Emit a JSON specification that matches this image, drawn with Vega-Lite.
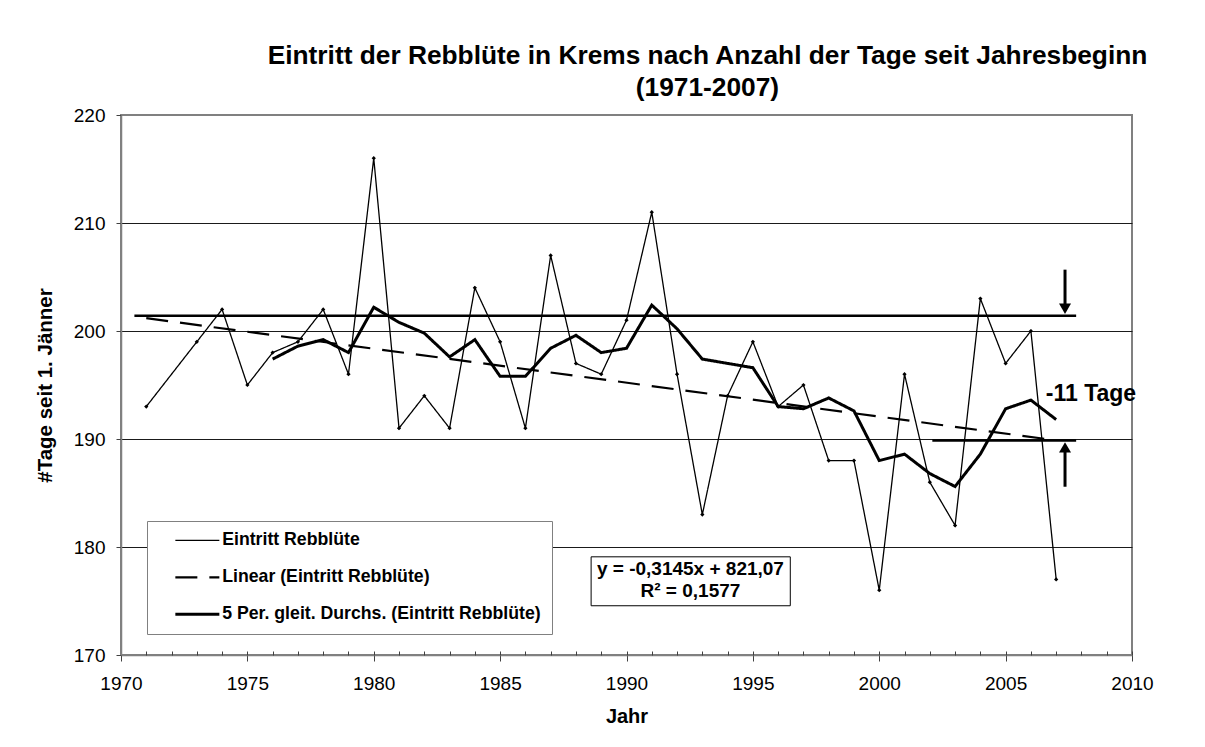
{
  "$schema": "https://vega.github.io/schema/vega-lite/v6.json",
  "width": 1011,
  "height": 540,
  "autosize": {"type": "none"},
  "padding": {"left": 121, "top": 115, "right": 73, "bottom": 92},
  "background": "white",
  "config": {
    "font": "Liberation Sans",
    "view": {"stroke": "#808080", "strokeWidth": 2},
    "axis": {"labelColor": "black", "titleColor": "black", "labelFont": "Liberation Sans", "titleFont": "Liberation Sans"},
    "legend": {
      "orient": "none", "legendX": 26, "legendY": 406,
      "symbolType": "M-4.4,0H4.4", "symbolSize": 100, "symbolStrokeColor": "black",
      "labelFont": "Liberation Sans", "labelFontSize": 17.7, "labelFontWeight": "bold", "labelColor": "black", "labelLimit": 0,
      "padding": 10.5, "rowPadding": 18, "symbolOffset": 31, "labelOffset": 16,
      "strokeColor": "#808080", "fillColor": "white"
    }
  },
  "title": {
    "text": ["Eintritt der Rebblüte in Krems nach Anzahl der Tage seit Jahresbeginn", "(1971-2007)"],
    "font": "Liberation Sans", "fontSize": 26.3, "fontWeight": "bold", "color": "black",
    "anchor": "middle", "dx": 81, "offset": 5, "lineHeight": 32
  },
  "resolve": {"scale": {"x": "independent"}, "axis": {"x": "independent"}},
  "datasets": {
    "reihen": [
      {"Jahr": 1971, "Tage": 193, "Reihe": "Eintritt Rebblüte"},
      {"Jahr": 1973, "Tage": 199, "Reihe": "Eintritt Rebblüte"},
      {"Jahr": 1974, "Tage": 202, "Reihe": "Eintritt Rebblüte"},
      {"Jahr": 1975, "Tage": 195, "Reihe": "Eintritt Rebblüte"},
      {"Jahr": 1976, "Tage": 198, "Reihe": "Eintritt Rebblüte"},
      {"Jahr": 1977, "Tage": 199, "Reihe": "Eintritt Rebblüte"},
      {"Jahr": 1978, "Tage": 202, "Reihe": "Eintritt Rebblüte"},
      {"Jahr": 1979, "Tage": 196, "Reihe": "Eintritt Rebblüte"},
      {"Jahr": 1980, "Tage": 216, "Reihe": "Eintritt Rebblüte"},
      {"Jahr": 1981, "Tage": 191, "Reihe": "Eintritt Rebblüte"},
      {"Jahr": 1982, "Tage": 194, "Reihe": "Eintritt Rebblüte"},
      {"Jahr": 1983, "Tage": 191, "Reihe": "Eintritt Rebblüte"},
      {"Jahr": 1984, "Tage": 204, "Reihe": "Eintritt Rebblüte"},
      {"Jahr": 1985, "Tage": 199, "Reihe": "Eintritt Rebblüte"},
      {"Jahr": 1986, "Tage": 191, "Reihe": "Eintritt Rebblüte"},
      {"Jahr": 1987, "Tage": 207, "Reihe": "Eintritt Rebblüte"},
      {"Jahr": 1988, "Tage": 197, "Reihe": "Eintritt Rebblüte"},
      {"Jahr": 1989, "Tage": 196, "Reihe": "Eintritt Rebblüte"},
      {"Jahr": 1990, "Tage": 201, "Reihe": "Eintritt Rebblüte"},
      {"Jahr": 1991, "Tage": 211, "Reihe": "Eintritt Rebblüte"},
      {"Jahr": 1992, "Tage": 196, "Reihe": "Eintritt Rebblüte"},
      {"Jahr": 1993, "Tage": 183, "Reihe": "Eintritt Rebblüte"},
      {"Jahr": 1994, "Tage": 194, "Reihe": "Eintritt Rebblüte"},
      {"Jahr": 1995, "Tage": 199, "Reihe": "Eintritt Rebblüte"},
      {"Jahr": 1996, "Tage": 193, "Reihe": "Eintritt Rebblüte"},
      {"Jahr": 1997, "Tage": 195, "Reihe": "Eintritt Rebblüte"},
      {"Jahr": 1998, "Tage": 188, "Reihe": "Eintritt Rebblüte"},
      {"Jahr": 1999, "Tage": 188, "Reihe": "Eintritt Rebblüte"},
      {"Jahr": 2000, "Tage": 176, "Reihe": "Eintritt Rebblüte"},
      {"Jahr": 2001, "Tage": 196, "Reihe": "Eintritt Rebblüte"},
      {"Jahr": 2002, "Tage": 186, "Reihe": "Eintritt Rebblüte"},
      {"Jahr": 2003, "Tage": 182, "Reihe": "Eintritt Rebblüte"},
      {"Jahr": 2004, "Tage": 203, "Reihe": "Eintritt Rebblüte"},
      {"Jahr": 2005, "Tage": 197, "Reihe": "Eintritt Rebblüte"},
      {"Jahr": 2006, "Tage": 200, "Reihe": "Eintritt Rebblüte"},
      {"Jahr": 2007, "Tage": 177, "Reihe": "Eintritt Rebblüte"},
      {"Jahr": 1971, "Tage": 201.19, "Reihe": "Linear (Eintritt Rebblüte)"},
      {"Jahr": 2007, "Tage": 189.87, "Reihe": "Linear (Eintritt Rebblüte)"},
      {"Jahr": 1976, "Tage": 197.4, "Reihe": "5 Per. gleit. Durchs. (Eintritt Rebblüte)"},
      {"Jahr": 1977, "Tage": 198.6, "Reihe": "5 Per. gleit. Durchs. (Eintritt Rebblüte)"},
      {"Jahr": 1978, "Tage": 199.2, "Reihe": "5 Per. gleit. Durchs. (Eintritt Rebblüte)"},
      {"Jahr": 1979, "Tage": 198.0, "Reihe": "5 Per. gleit. Durchs. (Eintritt Rebblüte)"},
      {"Jahr": 1980, "Tage": 202.2, "Reihe": "5 Per. gleit. Durchs. (Eintritt Rebblüte)"},
      {"Jahr": 1981, "Tage": 200.8, "Reihe": "5 Per. gleit. Durchs. (Eintritt Rebblüte)"},
      {"Jahr": 1982, "Tage": 199.8, "Reihe": "5 Per. gleit. Durchs. (Eintritt Rebblüte)"},
      {"Jahr": 1983, "Tage": 197.6, "Reihe": "5 Per. gleit. Durchs. (Eintritt Rebblüte)"},
      {"Jahr": 1984, "Tage": 199.2, "Reihe": "5 Per. gleit. Durchs. (Eintritt Rebblüte)"},
      {"Jahr": 1985, "Tage": 195.8, "Reihe": "5 Per. gleit. Durchs. (Eintritt Rebblüte)"},
      {"Jahr": 1986, "Tage": 195.8, "Reihe": "5 Per. gleit. Durchs. (Eintritt Rebblüte)"},
      {"Jahr": 1987, "Tage": 198.4, "Reihe": "5 Per. gleit. Durchs. (Eintritt Rebblüte)"},
      {"Jahr": 1988, "Tage": 199.6, "Reihe": "5 Per. gleit. Durchs. (Eintritt Rebblüte)"},
      {"Jahr": 1989, "Tage": 198.0, "Reihe": "5 Per. gleit. Durchs. (Eintritt Rebblüte)"},
      {"Jahr": 1990, "Tage": 198.4, "Reihe": "5 Per. gleit. Durchs. (Eintritt Rebblüte)"},
      {"Jahr": 1991, "Tage": 202.4, "Reihe": "5 Per. gleit. Durchs. (Eintritt Rebblüte)"},
      {"Jahr": 1992, "Tage": 200.2, "Reihe": "5 Per. gleit. Durchs. (Eintritt Rebblüte)"},
      {"Jahr": 1993, "Tage": 197.4, "Reihe": "5 Per. gleit. Durchs. (Eintritt Rebblüte)"},
      {"Jahr": 1994, "Tage": 197.0, "Reihe": "5 Per. gleit. Durchs. (Eintritt Rebblüte)"},
      {"Jahr": 1995, "Tage": 196.6, "Reihe": "5 Per. gleit. Durchs. (Eintritt Rebblüte)"},
      {"Jahr": 1996, "Tage": 193.0, "Reihe": "5 Per. gleit. Durchs. (Eintritt Rebblüte)"},
      {"Jahr": 1997, "Tage": 192.8, "Reihe": "5 Per. gleit. Durchs. (Eintritt Rebblüte)"},
      {"Jahr": 1998, "Tage": 193.8, "Reihe": "5 Per. gleit. Durchs. (Eintritt Rebblüte)"},
      {"Jahr": 1999, "Tage": 192.6, "Reihe": "5 Per. gleit. Durchs. (Eintritt Rebblüte)"},
      {"Jahr": 2000, "Tage": 188.0, "Reihe": "5 Per. gleit. Durchs. (Eintritt Rebblüte)"},
      {"Jahr": 2001, "Tage": 188.6, "Reihe": "5 Per. gleit. Durchs. (Eintritt Rebblüte)"},
      {"Jahr": 2002, "Tage": 186.8, "Reihe": "5 Per. gleit. Durchs. (Eintritt Rebblüte)"},
      {"Jahr": 2003, "Tage": 185.6, "Reihe": "5 Per. gleit. Durchs. (Eintritt Rebblüte)"},
      {"Jahr": 2004, "Tage": 188.6, "Reihe": "5 Per. gleit. Durchs. (Eintritt Rebblüte)"},
      {"Jahr": 2005, "Tage": 192.8, "Reihe": "5 Per. gleit. Durchs. (Eintritt Rebblüte)"},
      {"Jahr": 2006, "Tage": 193.6, "Reihe": "5 Per. gleit. Durchs. (Eintritt Rebblüte)"},
      {"Jahr": 2007, "Tage": 191.8, "Reihe": "5 Per. gleit. Durchs. (Eintritt Rebblüte)"}
    ],
    "linien": [
      {"Jahr": 1970.53, "Jahr2": 2007.79, "Tage": 201.42},
      {"Jahr": 2002.1, "Jahr2": 2007.79, "Tage": 189.87}
    ],
    "pfeile": [
      {"Jahr": 2007.35, "Tage": 205.68, "Tage2": 202.45, "Spitze": 202.06, "Richtung": "ab"},
      {"Jahr": 2007.35, "Tage": 185.58, "Tage2": 188.84, "Spitze": 189.22, "Richtung": "auf"}
    ],
    "beschriftung": [
      {"Jahr": 2006.59, "Tage": 194.2, "Text": "-11 Tage"}
    ],
    "gleichungsbox": [
      {"Jahr": 1988.6, "Jahr2": 1996.48, "Tage": 179.09, "Tage2": 174.56}
    ],
    "gleichung": [
      {"Jahr": 1992.53, "Tage": 177.95, "Text": "y = -0,3145x + 821,07"},
      {"Jahr": 1992.53, "Tage": 175.92, "Text": "R² = 0,1577"}
    ]
  },
  "layer": [
    {
      "data": {"name": "reihen"},
      "mark": {"type": "line", "color": "black", "strokeCap": "butt"},
      "encoding": {
        "x": {
          "field": "Jahr", "type": "quantitative",
          "scale": {"domain": [1970, 2010], "nice": false, "zero": false},
          "axis": {
            "orient": "bottom",
            "title": "Jahr",
            "values": [1970, 1975, 1980, 1985, 1990, 1995, 2000, 2005, 2010],
            "format": "d",
            "labelFontSize": 19, "labelPadding": 13, "labelOverlap": false, "labelFlush": false, "labelBound": false,
            "tickColor": "#404040", "tickSize": 6,
            "grid": false,
            "domainColor": "#808080", "domainWidth": 1.5,
            "titleFontSize": 20, "titleFontWeight": "bold", "titlePadding": 13
          }
        },
        "y": {
          "field": "Tage", "type": "quantitative",
          "scale": {"domain": [170, 220], "nice": false, "zero": false},
          "axis": {
            "title": "#Tage seit 1. Jänner",
            "values": [170, 180, 190, 200, 210, 220],
            "labelFontSize": 19, "labelPadding": 11, "tickSize": 5, "tickColor": "#404040",
            "grid": true,
            "gridColor": {"condition": {"test": "datum.value === 170 || datum.value === 220", "value": "transparent"}, "value": "#1a1a1a"},
            "gridWidth": 1,
            "domainColor": "#808080", "domainWidth": 1.5,
            "titleFontSize": 20.5, "titleFontWeight": "bold", "titlePadding": 18
          }
        },
        "strokeDash": {
          "field": "Reihe", "type": "nominal",
          "scale": {"domain": ["Eintritt Rebblüte", "Linear (Eintritt Rebblüte)", "5 Per. gleit. Durchs. (Eintritt Rebblüte)"], "range": [[1, 0], [22, 12], [1, 0]]},
          "legend": {"title": null}
        },
        "strokeWidth": {
          "field": "Reihe", "type": "nominal",
          "scale": {"domain": ["Eintritt Rebblüte", "Linear (Eintritt Rebblüte)", "5 Per. gleit. Durchs. (Eintritt Rebblüte)"], "range": [1.3, 3, 3]},
          "legend": {"title": null}
        }
      }
    },
    {
      "data": {"name": "reihen"},
      "transform": [{"filter": "datum.Reihe === 'Eintritt Rebblüte'"}],
      "mark": {"type": "point", "shape": "diamond", "filled": true, "size": 18, "color": "black", "opacity": 1},
      "encoding": {
        "x": {"field": "Jahr", "type": "quantitative", "scale": {"domain": [1970, 2010], "nice": false, "zero": false}, "axis": null},
        "y": {"field": "Tage", "type": "quantitative"}
      }
    },
    {
      "data": {"name": "linien"},
      "mark": {"type": "rule", "color": "black", "strokeWidth": 2.5},
      "encoding": {
        "x": {
          "field": "Jahr", "type": "quantitative",
          "scale": {"domain": [1970, 2010], "nice": false, "zero": false},
          "axis": {
            "orient": "bottom", "title": null,
            "values": [1970,1971,1972,1973,1974,1975,1976,1977,1978,1979,1980,1981,1982,1983,1984,1985,1986,1987,1988,1989,1990,1991,1992,1993,1994,1995,1996,1997,1998,1999,2000,2001,2002,2003,2004,2005,2006,2007,2008,2009,2010],
            "labels": false, "domain": false, "grid": false,
            "ticks": true, "tickSize": -4, "tickColor": "#404040"
          }
        },
        "x2": {"field": "Jahr2"},
        "y": {"field": "Tage", "type": "quantitative"}
      }
    },
    {
      "data": {"name": "pfeile"},
      "mark": {"type": "rule", "color": "black", "strokeWidth": 3},
      "encoding": {
        "x": {"field": "Jahr", "type": "quantitative", "scale": {"domain": [1970, 2010], "nice": false, "zero": false}, "axis": null},
        "y": {"field": "Tage", "type": "quantitative"},
        "y2": {"field": "Tage2"}
      }
    },
    {
      "data": {"name": "pfeile"},
      "mark": {"type": "point", "filled": true, "color": "black", "size": 144, "opacity": 1},
      "encoding": {
        "x": {"field": "Jahr", "type": "quantitative", "scale": {"domain": [1970, 2010], "nice": false, "zero": false}, "axis": null},
        "y": {"field": "Spitze", "type": "quantitative"},
        "shape": {"field": "Richtung", "type": "nominal", "scale": {"domain": ["ab", "auf"], "range": ["triangle-down", "triangle-up"]}, "legend": null}
      }
    },
    {
      "data": {"name": "beschriftung"},
      "mark": {"type": "text", "align": "left", "baseline": "middle", "font": "Liberation Sans", "fontSize": 23, "fontWeight": "bold", "color": "black"},
      "encoding": {
        "x": {"field": "Jahr", "type": "quantitative", "scale": {"domain": [1970, 2010], "nice": false, "zero": false}, "axis": null},
        "y": {"field": "Tage", "type": "quantitative"},
        "text": {"field": "Text"}
      }
    },
    {
      "data": {"name": "gleichungsbox"},
      "mark": {"type": "rect", "fill": "white", "stroke": "black", "strokeWidth": 1},
      "encoding": {
        "x": {"field": "Jahr", "type": "quantitative", "scale": {"domain": [1970, 2010], "nice": false, "zero": false}, "axis": null},
        "x2": {"field": "Jahr2"},
        "y": {"field": "Tage", "type": "quantitative"},
        "y2": {"field": "Tage2"}
      }
    },
    {
      "data": {"name": "gleichung"},
      "mark": {"type": "text", "align": "center", "baseline": "middle", "font": "Liberation Sans", "fontSize": 19, "fontWeight": "bold", "color": "black"},
      "encoding": {
        "x": {"field": "Jahr", "type": "quantitative", "scale": {"domain": [1970, 2010], "nice": false, "zero": false}, "axis": null},
        "y": {"field": "Tage", "type": "quantitative"},
        "text": {"field": "Text"}
      }
    }
  ]
}
